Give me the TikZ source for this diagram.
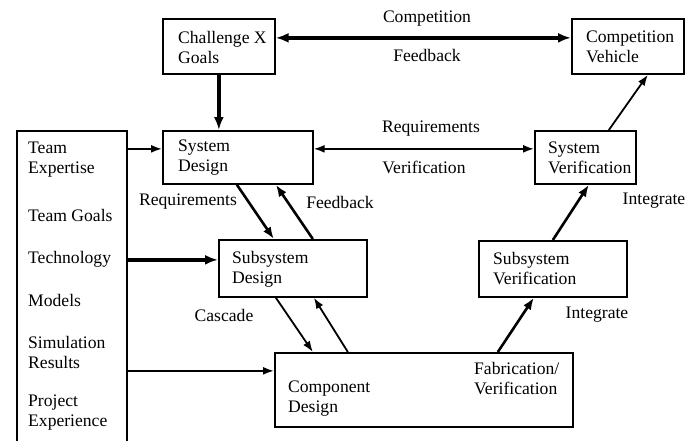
\documentclass[tikz,border=0pt]{standalone}
\usepackage{fontspec}
\setmainfont{Liberation Serif}
\usetikzlibrary{arrows.meta}
\begin{document}
\begin{tikzpicture}[x=1pt,y=-1pt,
  box/.style={draw,line width=1.7pt,inner sep=0pt,anchor=north west},
  txt/.style={anchor=west,align=left,inner sep=0pt,font=\fontsize{17.6}{20}\selectfont},
  lbl/.style={inner sep=0pt,font=\fontsize{17.6}{20}\selectfont},
  thinar/.style={line width=1.8pt,-{Latex[length=11pt,width=8pt]}},
  medar/.style={line width=2.6pt,-{Latex[length=12pt,width=9pt]}},
  thickar/.style={line width=3.8pt,-{Latex[length=13pt,width=10pt]}}]
\useasboundingbox (0,0) rectangle (697,440);
% boxes
\node[box,minimum width=112pt,minimum height=55pt] (cx) at (162,18) {};
\node[box,minimum width=112pt,minimum height=55pt] (cv) at (571,18) {};
\node[box,minimum width=150pt,minimum height=53pt] (sd) at (162,130) {};
\node[box,minimum width=101pt,minimum height=53pt] (sv) at (534,130) {};
\node[box,minimum width=148pt,minimum height=57pt] (ssd) at (218,239) {};
\node[box,minimum width=148pt,minimum height=56pt] (ssv) at (478,240) {};
\node[box,minimum width=298pt,minimum height=74pt] (cd) at (274,352) {};
\node[box,minimum width=110pt,minimum height=340pt] (lb) at (16,130) {};
% box texts
\node[txt] (tcx) at (178,47) {Challenge X\\Goals};
\node[txt] (tcv) at (586,47) {Competition\\Vehicle};
\node[txt] (tsd) at (178,158) {System\\Design};
\node[txt] (tsv) at (548,158) {System\\Verification};
\node[txt] (tssd) at (232,269) {Subsystem\\Design};
\node[txt] (tssv) at (493,269) {Subsystem\\Verification};
\node[txt] (tcd) at (288,399) {Component\\Design};
\node[txt] (tfv) at (474,379) {Fabrication/\\Verification};
% left box texts
\node[txt] (l1) at (28,160) {Team\\Expertise};
\node[txt] (l2) at (28,215) {Team Goals};
\node[txt] (l3) at (28,259) {Technology};
\node[txt] (l4) at (28,300) {Models};
\node[txt] (l5) at (28,352) {Simulation\\Results};
\node[txt] (l6) at (28,413) {Project\\Experience};
% labels
\node[lbl] (c1) at (427,19) {Competition};
\node[lbl] (c2) at (427,55) {Feedback};
\node[lbl] (c3) at (431,129) {Requirements};
\node[lbl] (c4) at (424,167) {Verification};
\node[lbl] (c5) at (188,202) {Requirements};
\node[lbl] (c6) at (340,202) {Feedback};
\node[lbl] (c7) at (224,315) {Cascade};
\node[lbl] (c8) at (654,201) {Integrate};
\node[lbl] (c9) at (597,315) {Integrate};
% connectors
\draw[thickar,{Latex[length=13pt,width=10pt]}-{Latex[length=13pt,width=10pt]}]
  ([yshift=8.5pt]cx.east) -- ([yshift=8.5pt]cv.west);
\draw[thickar] (cx.south) -- (cx.south |- sd.north);
\draw[thinar,{Latex[length=11pt,width=8pt]}-{Latex[length=11pt,width=8pt]}]
  ([yshift=8.5pt]sd.east) -- ([yshift=8.5pt]sv.west);
\draw[thinar] ([xshift=23.5pt]sv.north) -- ([xshift=20pt]cv.south);
\coordinate (a1) at ([yshift=8.5pt]sd.west);
\draw[thinar] (a1 -| lb.east) -- (a1);
\coordinate (a2) at ([yshift=8.5pt]ssd.west);
\draw[thickar] (a2 -| lb.east) -- (a2);
\coordinate (a3) at ([yshift=19pt]cd.west);
\draw[thinar] (a3 -| lb.east) -- (a3);
\draw[medar] ([xshift=-1pt]sd.south) -- ([xshift=-19pt]ssd.north);
\draw[medar] ([xshift=20pt]ssd.north) -- ([xshift=38pt]sd.south);
\draw[thinar] ([xshift=-17pt]ssd.south) -- ([xshift=-111pt]cd.north);
\draw[thinar] ([xshift=-76pt]cd.north) -- ([xshift=21pt]ssd.south);
\draw[medar] ([xshift=74pt]cd.north) -- ([xshift=-19pt]ssv.south);
\draw[medar] (ssv.north) -- ([xshift=3.5pt]sv.south);
\end{tikzpicture}
\end{document}
